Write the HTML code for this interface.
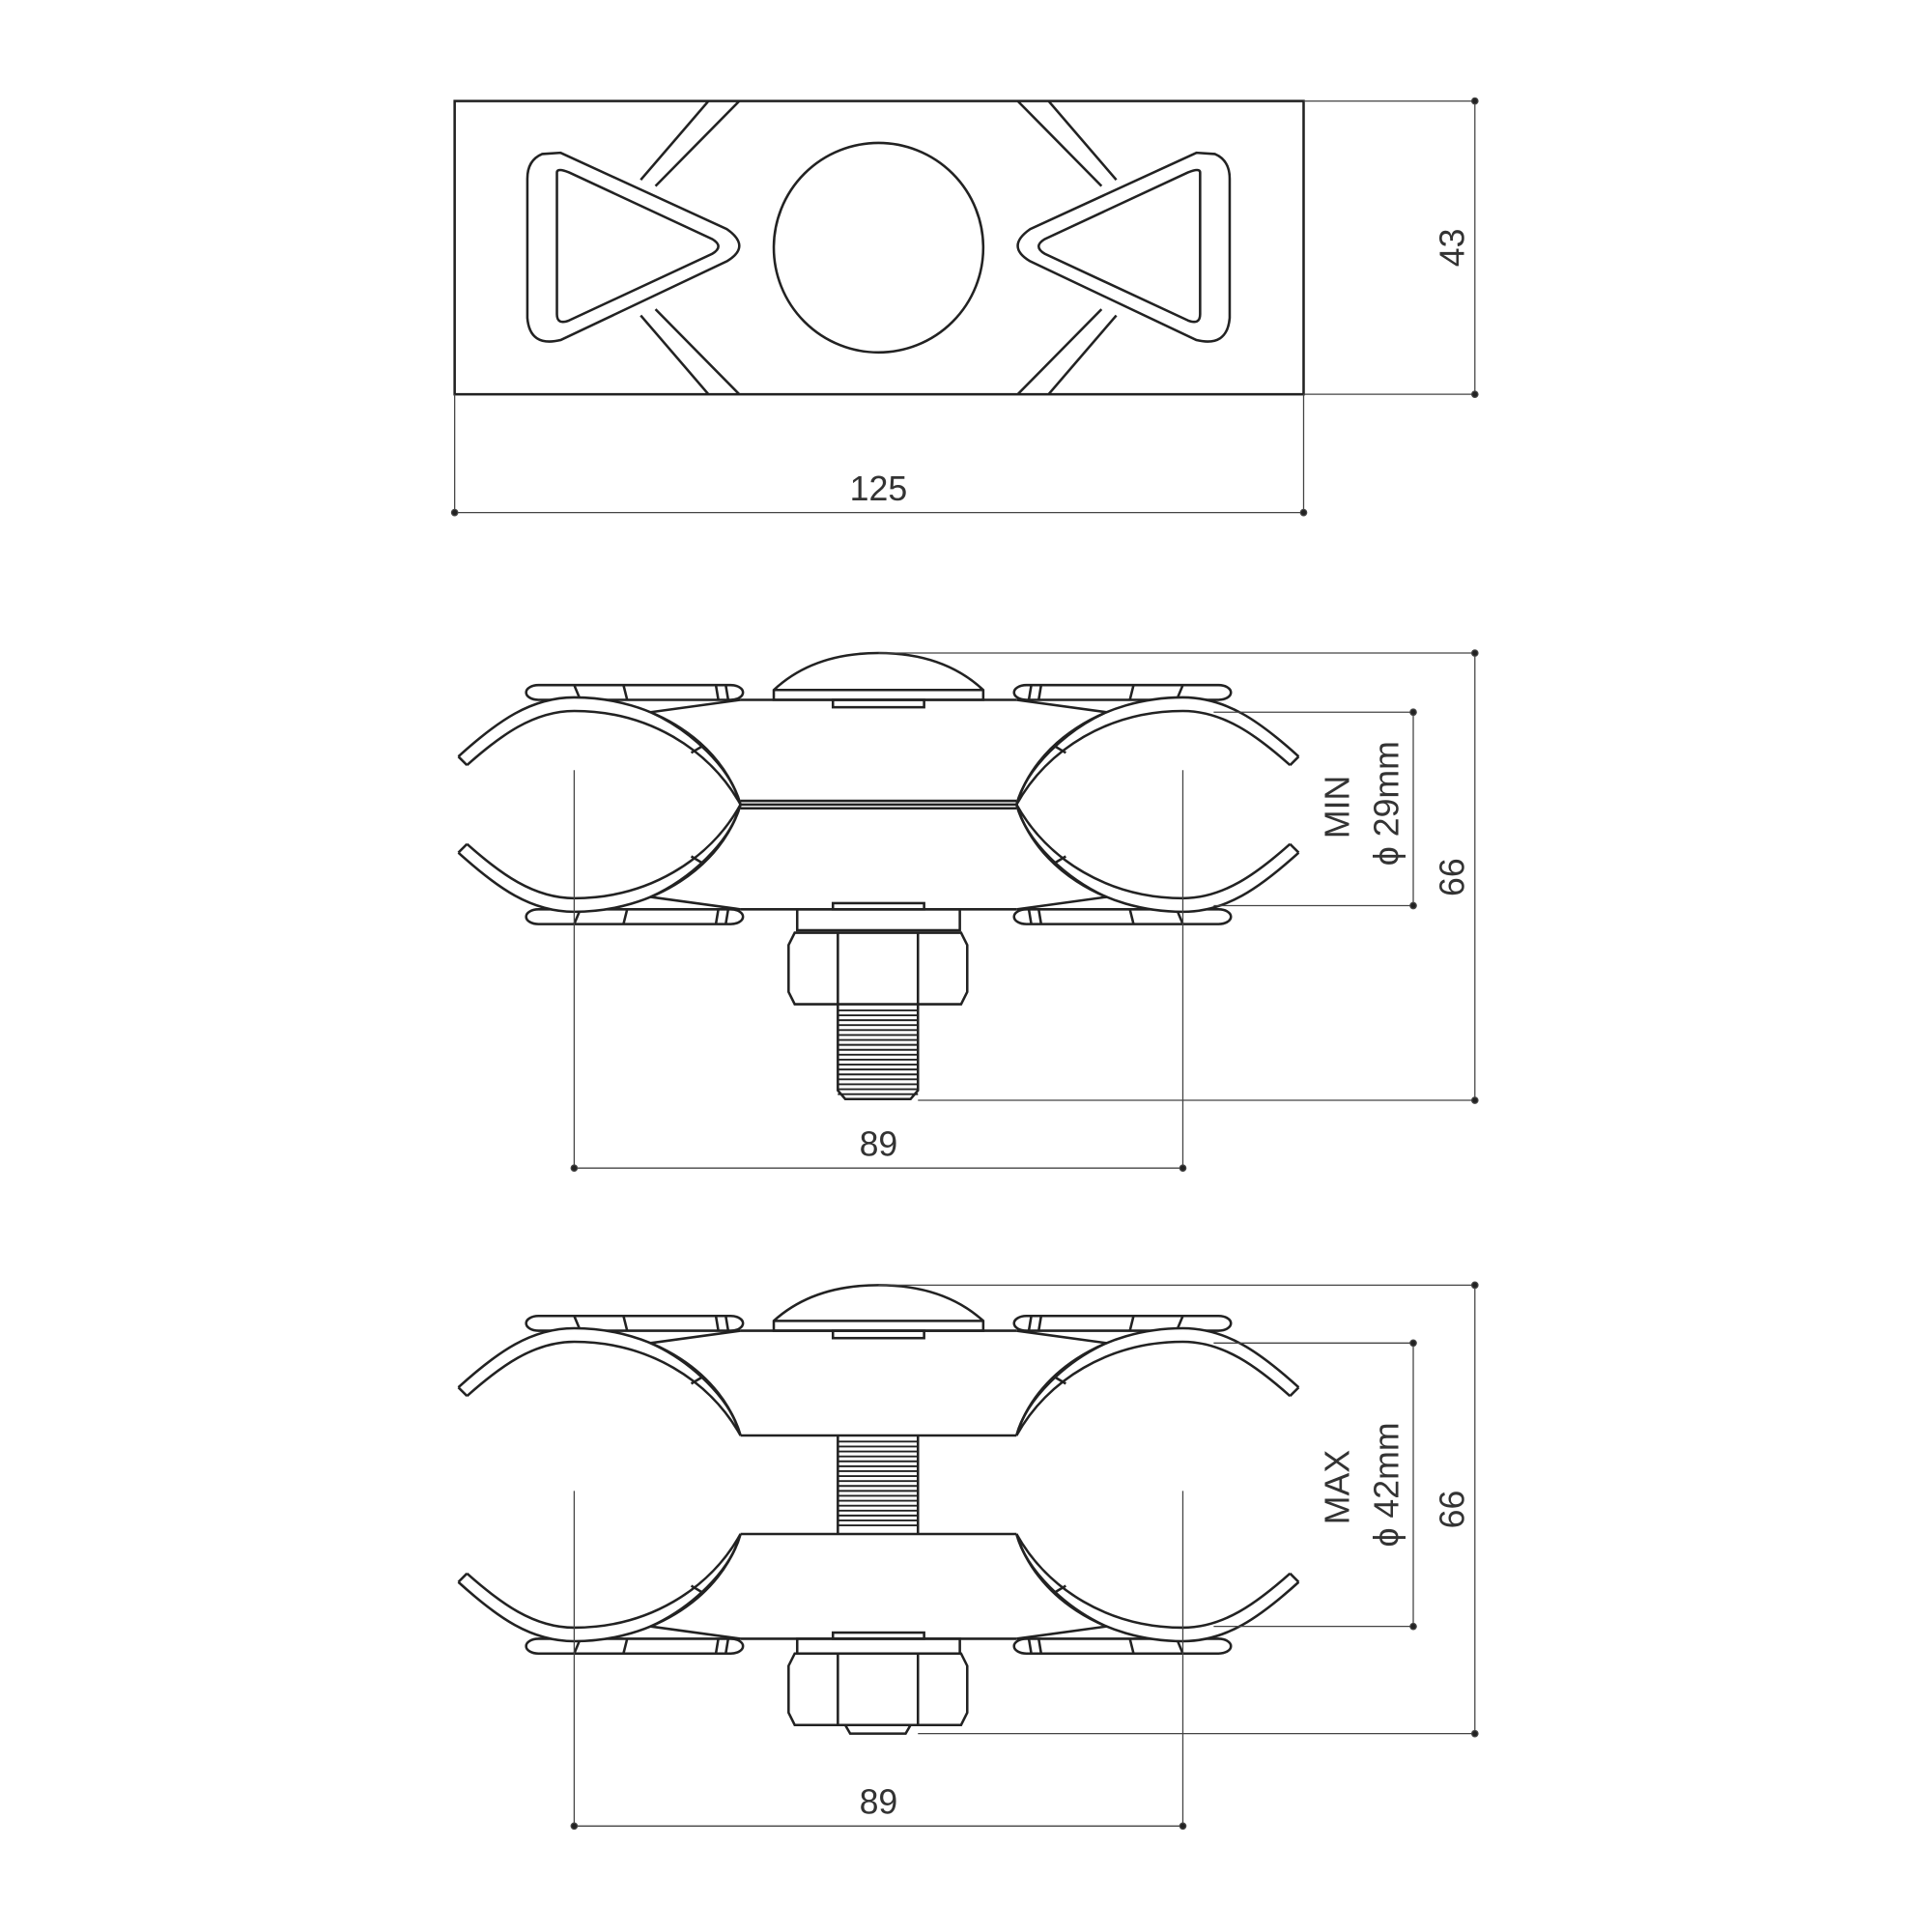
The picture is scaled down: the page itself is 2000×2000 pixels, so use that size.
<!DOCTYPE html>
<html><head><meta charset="utf-8"><style>html,body{margin:0;padding:0;background:#fff}svg{display:block}</style></head><body>
<svg width="2000" height="2000" viewBox="0 0 1568 1568" xmlns="http://www.w3.org/2000/svg">
<defs>
<g id="half" fill="none" stroke="#222" stroke-width="2">
<rect x="-174" y="-97" width="176" height="12" rx="10"/>
<line x1="-135" y1="-97" x2="-130" y2="-85"/><line x1="-95" y1="-97" x2="-92" y2="-85"/><line x1="-20" y1="-97" x2="-18" y2="-85"/><line x1="-12" y1="-97" x2="-10" y2="-85"/>
<path d="M-229,-39 C-197,-68 -170,-87 -135,-87 C-70,-87 -15,-50 0,0" fill="#fff"/>
<path d="M-222,-32 C-195,-56 -168,-76 -135,-76 C-75,-76 -25,-45 0,0"/>
<line x1="-229" y1="-39" x2="-222" y2="-32"/>
<path d="M0,-85 L-73,-75 C-40,-60 -8,-30 0,0"/>
<line x1="-40" y1="-42" x2="-30" y2="-48"/>
</g>
<g id="thread" stroke="#222" stroke-width="1.5">
<line x1="0" y1="0" x2="65" y2="0"/><line x1="0" y1="4" x2="65" y2="4"/>
</g>
</defs>
<g fill="none" stroke="#222" stroke-width="2">
<!-- top view -->
<rect x="369" y="82" width="689" height="238"/>
<circle cx="713" cy="201" r="85"/>
<path d="M440,125 Q428,130 428,145 L428,258 Q430,282 455,276 L590,212 Q610,200 590,186 L455,124 Z" transform="translate(0,0)"/>
<path d="M452,140 L452,255 Q452,264 462,260 L578,206 Q588,200 578,194 L462,140 Q452,136 452,140 Z"/>
<g transform="translate(1426,0) scale(-1,1)">
<path d="M440,125 Q428,130 428,145 L428,258 Q430,282 455,276 L590,212 Q610,200 590,186 L455,124 Z"/>
<path d="M452,140 L452,255 Q452,264 462,260 L578,206 Q588,200 578,194 L462,140 Q452,136 452,140 Z"/>
<path d="M520,146 L575,82 M532,151 L600,82 M520,256 L575,320 M532,251 L600,320"/>
</g>
<path d="M520,146 L575,82 M532,151 L600,82 M520,256 L575,320 M532,251 L600,320"/>
</g>
<g stroke="#444" stroke-width="1" fill="#222">
<line x1="1058" y1="82" x2="1197" y2="82"/><line x1="1058" y1="320" x2="1197" y2="320"/>
<line x1="1197" y1="82" x2="1197" y2="320"/>
<line x1="369" y1="320" x2="369" y2="416"/><line x1="1058" y1="320" x2="1058" y2="416"/>
<line x1="369" y1="416" x2="1058" y2="416"/>
<circle cx="1197" cy="82" r="2.5"/><circle cx="1197" cy="320" r="2.5"/><circle cx="369" cy="416" r="2.5"/><circle cx="1058" cy="416" r="2.5"/>
</g>
<!-- middle view -->
<g fill="none" stroke="#222" stroke-width="2">
<path d="M628,568 L628,560 Q660,530 713,530 Q766,530 798,560 L798,568 Z"/><line x1="628" y1="560" x2="798" y2="560"/>
<rect x="676" y="568" width="74" height="6"/>
<line x1="601" y1="568" x2="825" y2="568"/><line x1="601" y1="738" x2="825" y2="738"/>
<line x1="601" y1="650" x2="825" y2="650"/><line x1="601" y1="653" x2="825" y2="653"/><line x1="601" y1="656" x2="825" y2="656"/>
<rect x="647" y="738" width="132" height="17"/><rect x="676" y="733" width="74" height="5"/>
<path d="M645,757 L780,757 L785,767 L785,805 L780,815 L645,815 L640,805 L640,767 Z"/>
<line x1="680" y1="757" x2="680" y2="815"/><line x1="745" y1="757" x2="745" y2="815"/>
<path d="M680,815 L680,885 L686,892 L739,892 L745,885 L745,815"/>
</g>
<g transform="translate(680,820)"><use href="#thread"/><use href="#thread" y="8"/><use href="#thread" y="16"/><use href="#thread" y="24"/><use href="#thread" y="32"/><use href="#thread" y="40"/><use href="#thread" y="48"/><use href="#thread" y="56"/><use href="#thread" y="64"/></g>
<use href="#half" transform="translate(601,653)"/>
<use href="#half" transform="translate(601,653) scale(1,-1)"/>
<use href="#half" transform="translate(825,653) scale(-1,1)"/>
<use href="#half" transform="translate(825,653) scale(-1,-1)"/>
<!-- bottom view -->
<g fill="none" stroke="#222" stroke-width="2">
<path d="M628,1080 L628,1072 Q660,1043 713,1043 Q766,1043 798,1072 L798,1080 Z"/><line x1="628" y1="1072" x2="798" y2="1072"/>
<rect x="676" y="1080" width="74" height="6"/>
<line x1="601" y1="1080" x2="825" y2="1080"/><line x1="601" y1="1165" x2="825" y2="1165"/>
<line x1="601" y1="1245" x2="825" y2="1245"/><line x1="601" y1="1330" x2="825" y2="1330"/>
<line x1="680" y1="1165" x2="680" y2="1245"/><line x1="745" y1="1165" x2="745" y2="1245"/>
<rect x="647" y="1330" width="132" height="12"/><rect x="676" y="1325" width="74" height="5"/>
<path d="M645,1342 L780,1342 L785,1352 L785,1390 L780,1400 L645,1400 L640,1390 L640,1352 Z"/>
<line x1="680" y1="1342" x2="680" y2="1400"/><line x1="745" y1="1342" x2="745" y2="1400"/>
<path d="M686,1400 L690,1407 L735,1407 L739,1400"/>
</g>
<g transform="translate(680,1170)"><use href="#thread"/><use href="#thread" y="8"/><use href="#thread" y="16"/><use href="#thread" y="24"/><use href="#thread" y="32"/><use href="#thread" y="40"/><use href="#thread" y="48"/><use href="#thread" y="56"/><use href="#thread" y="64"/></g>
<use href="#half" transform="translate(601,1165)"/>
<use href="#half" transform="translate(601,1245) scale(1,-1)"/>
<use href="#half" transform="translate(825,1165) scale(-1,1)"/>
<use href="#half" transform="translate(825,1245) scale(-1,-1)"/>
<!-- dims -->
<g stroke="#444" stroke-width="1" fill="#222">
<line x1="713" y1="530" x2="1197" y2="530"/><line x1="745" y1="893" x2="1197" y2="893"/><line x1="1197" y1="530" x2="1197" y2="893"/>
<line x1="985" y1="578" x2="1147" y2="578"/><line x1="985" y1="735" x2="1147" y2="735"/><line x1="1147" y1="578" x2="1147" y2="735"/>
<line x1="466" y1="625" x2="466" y2="948"/><line x1="960" y1="625" x2="960" y2="948"/><line x1="466" y1="948" x2="960" y2="948"/>
<circle cx="1197" cy="530" r="2.5"/><circle cx="1197" cy="893" r="2.5"/><circle cx="1147" cy="578" r="2.5"/><circle cx="1147" cy="735" r="2.5"/><circle cx="466" cy="948" r="2.5"/><circle cx="960" cy="948" r="2.5"/>
<line x1="713" y1="1043" x2="1197" y2="1043"/><line x1="745" y1="1407" x2="1197" y2="1407"/><line x1="1197" y1="1043" x2="1197" y2="1407"/>
<line x1="985" y1="1090" x2="1147" y2="1090"/><line x1="985" y1="1320" x2="1147" y2="1320"/><line x1="1147" y1="1090" x2="1147" y2="1320"/>
<line x1="466" y1="1210" x2="466" y2="1482"/><line x1="960" y1="1210" x2="960" y2="1482"/><line x1="466" y1="1482" x2="960" y2="1482"/>
<circle cx="1197" cy="1043" r="2.5"/><circle cx="1197" cy="1407" r="2.5"/><circle cx="1147" cy="1090" r="2.5"/><circle cx="1147" cy="1320" r="2.5"/><circle cx="466" cy="1482" r="2.5"/><circle cx="960" cy="1482" r="2.5"/>
</g>
<g font-family="'Liberation Sans', sans-serif" font-size="28" fill="#333" text-anchor="middle">
<text x="713" y="406">125</text>
<text transform="translate(1188,201) rotate(-90)">43</text>
<text x="713" y="938">89</text>
<text x="713" y="1472">89</text>
<text transform="translate(1188,712) rotate(-90)">66</text>
<text transform="translate(1188,1225) rotate(-90)">66</text>
<text transform="translate(1095,655) rotate(-90)">MIN</text>
<text transform="translate(1135,652) rotate(-90)">ϕ 29mm</text>
<text transform="translate(1095,1207) rotate(-90)">MAX</text>
<text transform="translate(1135,1205) rotate(-90)">ϕ 42mm</text>
</g>
</svg>
</body></html>
